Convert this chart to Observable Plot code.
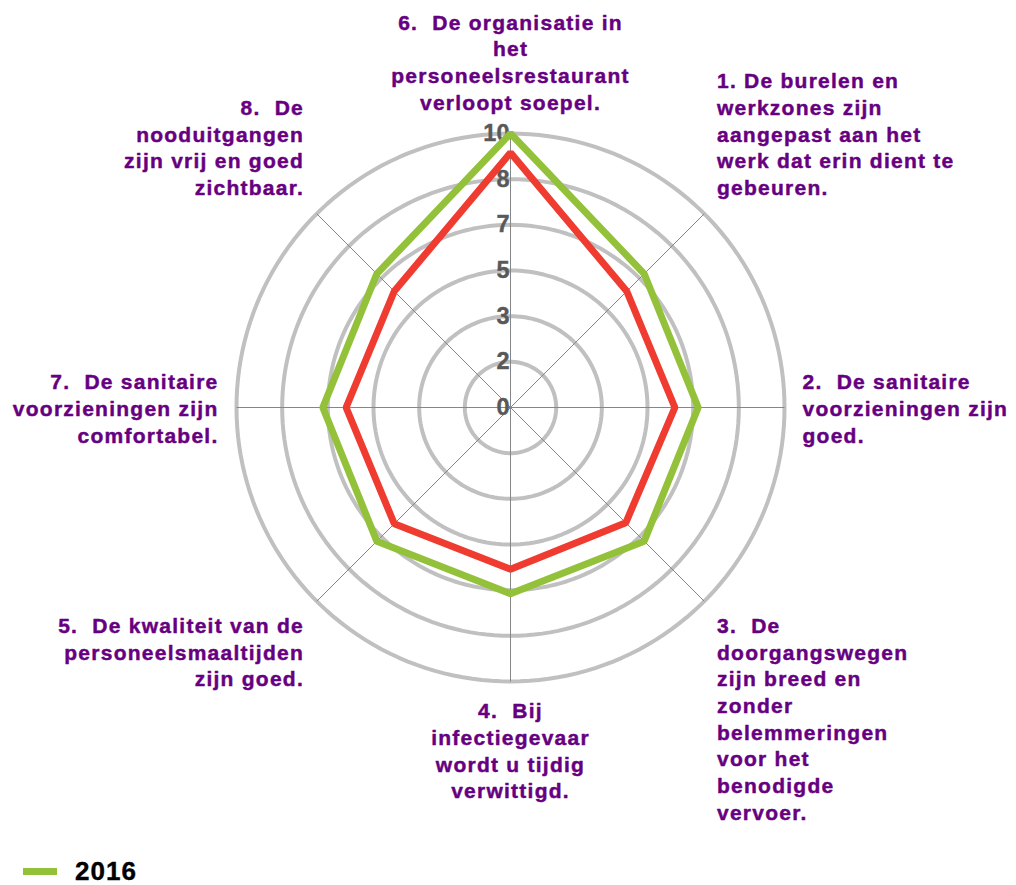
<!DOCTYPE html>
<html><head><meta charset="utf-8">
<script src="https://cdn.jsdelivr.net/npm/d3@7"></script>
<script src="https://cdn.jsdelivr.net/npm/@observablehq/plot@0.6"></script>
<style>
body{margin:0;background:#fff;font-family:"Liberation Sans",Arial,sans-serif;}
#chart svg{display:block;}
g[fill="#660080"] text{letter-spacing:1.25px;}
#legend{position:relative;height:35px;width:1016px;}
#legend .sw{position:absolute;left:23px;top:18px;width:34px;height:7px;background:#93c13a;}
#legend .lb{position:absolute;left:75px;top:6px;font-weight:bold;font-size:26px;letter-spacing:1px;color:#000;line-height:30px;-webkit-text-stroke:0.4px #000;}
</style></head><body>
<div id="chart"></div>
<div id="legend"><div class="sw"></div><div class="lb">2016</div></div>
<script>
const categories = ["6", "1", "2", "3", "4", "5", "7", "8"];
const categoryLabels = [
  "6.\u00a0 De organisatie in\nhet\npersoneelsrestaurant\nverloopt soepel.",
  "1. De burelen en\nwerkzones zijn\naangepast aan het\nwerk dat erin dient te\ngebeuren.",
  "2.\u00a0 De sanitaire\nvoorzieningen zijn\ngoed.",
  "3.\u00a0 De\ndoorgangswegen\nzijn breed en\nzonder\nbelemmeringen\nvoor het\nbenodigde\nvervoer.",
  "4.\u00a0 Bij\ninfectiegevaar\nwordt u tijdig\nverwittigd.",
  "5.\u00a0 De kwaliteit van de\npersoneelsmaaltijden\nzijn goed.",
  "7.\u00a0 De sanitaire\nvoorzieningen zijn\ncomfortabel.",
  "8.\u00a0 De\nnooduitgangen\nzijn vrij en goed\nzichtbaar."
];
const values2016 = [10, 6.9, 6.85, 6.9, 6.8, 6.9, 6.85, 6.9];
const valuesPrev = [9.3, 6.0, 6.0, 5.95, 5.9, 6.0, 6.0, 6.0];
const tickLabels = ["0", "2", "3", "5", "7", "8", "10"];
const maxValue = 10;

// layout
const W = 1016, H = 850, cx = 510, cy = 407, radiusPx = 274;
const k = radiusPx / maxValue;
const labelR = 292 / k;
const n = categories.length;
const ang = i => i * 2 * Math.PI / n;
const px = (r, i) => r * Math.sin(ang(i));
const py = (r, i) => r * Math.cos(ang(i));

const tickPos = tickLabels.map((t, i) => ({v: i * maxValue / (tickLabels.length - 1), t}));
const rings = [];
tickPos.filter(d => d.v > 0).forEach(d => {
  for (let j = 0; j <= 180; j++) {
    const a = j / 180 * 2 * Math.PI;
    rings.push({ring: d.v, x: d.v * Math.sin(a), y: d.v * Math.cos(a)});
  }
});
const spokes = categories.map((c, i) => ({x2: px(maxValue, i), y2: py(maxValue, i)}));
const pts = vals => vals.map((v, i) => ({x: px(v, i), y: py(v, i)}));

const labels = categoryLabels.map((t, i) => {
  const s = Math.sin(ang(i)), c = Math.cos(ang(i));
  return {
    t, x: px(labelR, i), y: py(labelR, i),
    ta: Math.abs(s) < 0.1 ? "middle" : s > 0 ? "start" : "end",
    la: Math.abs(c) < 0.1 ? "middle" : c > 0 ? "bottom" : "top"
  };
});
const groups = d3.groups(labels, d => d.ta + "|" + d.la);
const labelMarks = groups.map(([key, arr]) => Plot.text(arr, {
  x: "x", y: "y", text: "t", textAnchor: arr[0].ta, lineAnchor: arr[0].la,
  dy: arr[0].la === "bottom" ? -6 : 0,
  fill: "#660080", stroke: "#660080", strokeWidth: 0.45,
  fontSize: 21, fontWeight: "bold", lineHeight: 1.27
}));

const chart = Plot.plot({
  width: W, height: H,
  margin: 0,
  x: {domain: [-cx / k, (W - cx) / k], range: [0, W], axis: null},
  y: {domain: [-(H - cy) / k, cy / k], range: [H, 0], axis: null},
  style: {fontFamily: '"Liberation Sans", Arial, sans-serif', background: "#fff"},
  marks: [
    Plot.line(rings, {x: "x", y: "y", z: "ring", stroke: "#c0c0c0", strokeWidth: 4}),
    Plot.link(spokes, {x1: 0, y1: 0, x2: "x2", y2: "y2", stroke: "#868686", strokeWidth: 1}),
    Plot.text(tickPos, {x: 0, y: "v", text: "t", textAnchor: "end", dx: -1,
      fill: "#595959", stroke: "#595959", strokeWidth: 0.4, fontSize: 23.5, fontWeight: "bold"}),
    Plot.line(pts(valuesPrev), {x: "x", y: "y", curve: "linear-closed", stroke: "#ef3b30", strokeWidth: 7, strokeLinejoin: "miter"}),
    Plot.line(pts(values2016), {x: "x", y: "y", curve: "linear-closed", stroke: "#93c13a", strokeWidth: 7, strokeLinejoin: "miter"}),
    ...labelMarks
  ]
});
document.getElementById("chart").append(chart);
</script>
</body></html>
